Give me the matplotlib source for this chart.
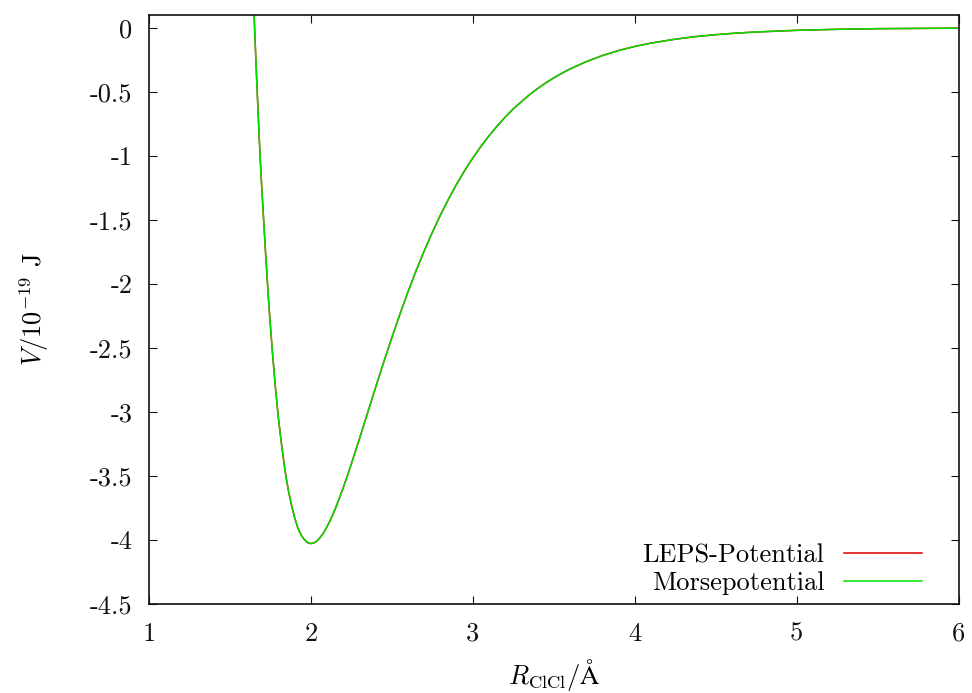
import matplotlib
matplotlib.use("Agg")
import matplotlib.pyplot as plt

# Data (R in Angstrom, V in 1e-19 J)
R = [1.64, 1.66, 1.67, 1.68, 1.69, 1.70, 1.72, 1.74, 1.76, 1.78, 1.80, 1.82,
     1.84, 1.86, 1.88, 1.90, 1.92, 1.94, 1.96, 1.98, 2.00, 2.02, 2.04, 2.06,
     2.08, 2.10, 2.125, 2.15, 2.175, 2.20, 2.225, 2.25, 2.30, 2.35, 2.40,
     2.45, 2.50, 2.55, 2.60, 2.65, 2.70, 2.75, 2.80, 2.85, 2.90, 2.95, 3.00,
     3.05, 3.10, 3.15, 3.20, 3.25, 3.30, 3.35, 3.40, 3.45, 3.50, 3.55, 3.60,
     3.70, 3.80, 3.90, 4.00, 4.10, 4.25, 4.375, 4.50, 4.625, 4.75, 5.00,
     5.25, 5.50, 6.00]
morse_V = [0.38, -0.25, -0.55, -0.84, -1.10, -1.33, -1.76, -2.16, -2.50, -2.80,
           -3.06, -3.27, -3.46, -3.61, -3.73, -3.83, -3.91, -3.965, -4.00,
           -4.023, -4.03, -4.024, -4.006, -3.978, -3.942, -3.897, -3.833,
           -3.759, -3.679, -3.592, -3.501, -3.406, -3.21, -3.009, -2.808,
           -2.611, -2.42, -2.237, -2.062, -1.897, -1.743, -1.598, -1.463,
           -1.338, -1.222, -1.115, -1.017, -0.927, -0.844, -0.768, -0.698,
           -0.634, -0.577, -0.523, -0.475, -0.431, -0.391, -0.355, -0.322,
           -0.265, -0.217, -0.178, -0.146, -0.120, -0.089, -0.069, -0.054,
           -0.042, -0.033, -0.020, -0.012, -0.007, -0.003]
leps_V = list(morse_V)  # the two curves coincide in the picture

xticks = [1, 2, 3, 4, 5, 6]
xticklabels = ["1", "2", "3", "4", "5", "6"]
yticks = [0, -0.5, -1, -1.5, -2, -2.5, -3, -3.5, -4, -4.5]
yticklabels = ["0", "-0.5", "-1", "-1.5", "-2", "-2.5", "-3", "-3.5", "-4", "-4.5"]

plt.rcParams['font.family'] = ['cmr10', 'DejaVu Serif']
plt.rcParams['mathtext.fontset'] = 'cm'
plt.rcParams['axes.unicode_minus'] = False
plt.rcParams['axes.formatter.use_mathtext'] = True

FS = 19

fig = plt.figure(figsize=(9.72, 6.93), dpi=100)
ax = fig.add_axes([0.1533, 0.1288, 0.8329, 0.8496])

ax.plot(R, leps_V, color='#e00000', lw=1.1, label='LEPS-Potential')
ax.plot(R, morse_V, color='#00e000', lw=1.1, label='Morsepotential')

ax.set_xlim(1, 6)
ax.set_ylim(-4.5, 0.1)
ax.set_xticks(xticks)
ax.set_xticklabels(xticklabels)
ax.set_yticks(yticks)
ax.set_yticklabels(yticklabels)
ax.tick_params(direction='in', length=6, width=0.8, top=True, right=True,
               labelsize=FS, pad=12, colors='#111111')
ax.tick_params(axis='x', pad=13)
for s in ax.spines.values():
    s.set_linewidth(1.2)
    s.set_color('#111111')

ax.set_xlabel(r'$R_{\mathrm{ClCl}}/\mathrm{\AA}$', fontsize=FS, labelpad=8)
ax.set_ylabel(r'$V/10^{-19}$ J', fontsize=FS, labelpad=28)

leg = ax.legend(loc='lower right', bbox_to_anchor=(0.955, 0.015),
                frameon=False, fontsize=FS, borderpad=0, borderaxespad=0,
                markerfirst=False, handlelength=2.95, handletextpad=0.75,
                labelspacing=0.15)

fig.savefig('out.png', dpi=100)
